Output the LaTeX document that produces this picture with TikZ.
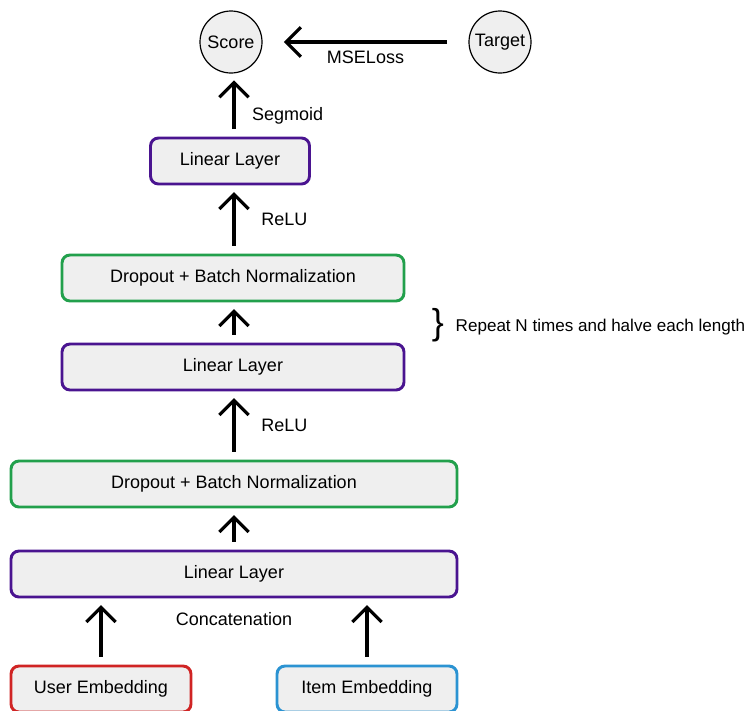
\documentclass[tikz,border=0pt]{standalone}
\usepackage{fontspec}
\setmainfont{Liberation Sans}
\usetikzlibrary{arrows.meta,positioning}

\definecolor{boxfill}{HTML}{EFEFEF}
\definecolor{linpurple}{HTML}{4A1490}
\definecolor{dropgreen}{HTML}{22A04C}
\definecolor{userred}{HTML}{D02424}
\definecolor{itemblue}{HTML}{2B93D2}

\begin{document}
\begin{tikzpicture}[x=0.75pt,y=-0.75pt]
  \tikzset{every node/.style={font=\fontsize{13.5}{16}\selectfont},
    layer/.style={draw,line width=2.2pt,rounded corners=6pt,fill=boxfill,minimum height=46*0.75pt},
    outnode/.style={circle,draw,line width=0.9pt,fill=boxfill,minimum size=62*0.75pt,inner sep=0pt},
    flow/.style={-{Straight Barb[length=11pt,width=22pt,line width=2.4pt]},line width=2.4pt,shorten >=5pt,shorten <=6pt}}
  \useasboundingbox (0,0) rectangle (754,711);
  % output side
  \node[outnode] (score) at (231,42) {Score};
  \node[outnode] (target) at (500,42) {Target};
  \node[layer,draw=linpurple,minimum width=159*0.75pt] (lin1) at (230,161) {Linear Layer};
  \node[layer,draw=dropgreen,minimum width=342*0.75pt] (drop1) at (233,278) {Dropout + Batch Normalization};
  \node[layer,draw=linpurple,minimum width=342*0.75pt] (lin2) at (233,367) {Linear Layer};
  \node[layer,draw=dropgreen,minimum width=446*0.75pt] (drop2) at (234,484) {Dropout + Batch Normalization};
  \node[layer,draw=linpurple,minimum width=446*0.75pt] (lin3) at (234,574) {Linear Layer};
  % inputs
  \node[layer,draw=userred,minimum width=180*0.75pt] (user) at (101,689) {User Embedding};
  \node[layer,draw=itemblue,minimum width=180*0.75pt] (item) at (367,689) {Item Embedding};
  % repeat note
  \node[font=\fontsize{27}{27}\selectfont] (brace) at (438,325) {\}};
  \node[anchor=west,font=\fontsize{12.8}{15}\selectfont] (rep) at (451,327) {Repeat N times and halve each length};

  \draw[flow,shorten >=16pt,shorten <=16pt] (target) -- node[below=2pt] {MSELoss} (score);
  \draw[flow] (234,137) -- node[pos=0.33,right=9pt] {Segmoid} (score.south -| 234,0);
  \draw[flow] (drop1.north -| 234,0) -- node[right=16pt] {ReLU} (lin1.south -| 234,0);
  \draw[flow] (lin2.north -| 234,0) -- (drop1.south -| 234,0);
  \draw[flow] (drop2.north) -- node[right=16pt] {ReLU} (lin2.south -| 234,0);
  \draw[flow] (lin3.north) -- (drop2.south);
  \draw[flow] (user.north) -- (user.north |- lin3.south);
  \draw[flow] (item.north) -- (item.north |- lin3.south);
  \node[below=7pt of lin3] (concat) {Concatenation};
\end{tikzpicture}
\end{document}
